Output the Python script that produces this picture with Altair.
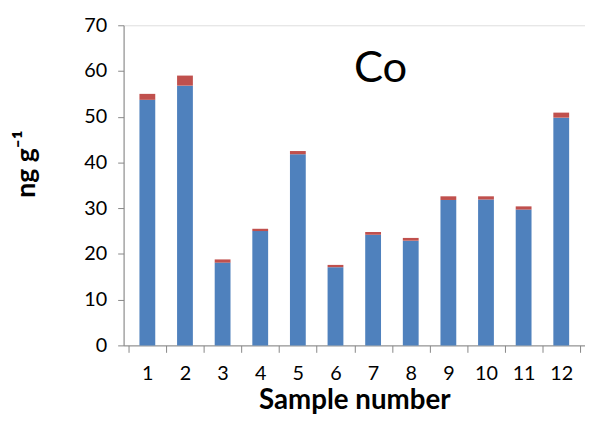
import altair as alt
import pandas as pd

samples = [1, 2, 3, 4, 5, 6, 7, 8, 9, 10, 11, 12]
blue_vals = [53.7, 56.8, 18.1, 25.0, 41.8, 17.1, 24.2, 22.9, 31.8, 31.9, 29.7, 49.8]
red_vals = [1.3, 2.2, 0.7, 0.5, 0.7, 0.5, 0.6, 0.6, 0.8, 0.7, 0.7, 1.1]
x_tick_bounds = [0.5, 1.5, 2.5, 3.5, 4.5, 5.5, 6.5, 7.5, 8.5, 9.5, 10.5, 11.5, 12.5]
y_ticks = [0, 10, 20, 30, 40, 50, 60, 70]
panel_label = ["Co"]
label_pos_x = [7.2]
label_pos_y = [57.7]

df = pd.DataFrame({"sample": samples, "blue": blue_vals, "red": red_vals})
df["top"] = df["blue"] + df["red"]
lab = pd.DataFrame({"text": panel_label, "x": label_pos_x, "y": label_pos_y})

FONT = "Lato"
GRAY = "#868686"

x_scale = alt.Scale(domain=[0.5, 12.5], nice=False, zero=False)
y_scale = alt.Scale(domain=[0, 70], nice=False)

y_axis = alt.Axis(
    values=y_ticks, title="ng g⁻¹", titleFont=FONT, titleFontSize=27,
    titleFontWeight="bold", titleColor="black", titlePadding=44, titleY=140,
    labelFont=FONT, labelFontSize=20, labelColor="black", labelPadding=11,
    tickSize=6, tickColor=GRAY, domainColor=GRAY, grid=False,
)

axis_ticks = alt.Axis(
    orient="bottom", values=x_tick_bounds, labels=False, title=None,
    tickSize=7, tickColor=GRAY, domainColor=GRAY, grid=False,
)
axis_labels = alt.Axis(
    orient="bottom", values=samples, ticks=False, domain=False, grid=False,
    labelFont=FONT, labelFontSize=20, labelColor="black", labelPadding=19,
    title="Sample number", titleFont=FONT, titleFontSize=28,
    titleFontWeight="bold", titleColor="black", titlePadding=3,
)

blue = alt.Chart(df).mark_bar(size=16, color="#4F81BD").encode(
    x=alt.X("sample:Q", scale=x_scale, axis=axis_ticks),
    y=alt.Y("blue:Q", scale=y_scale, axis=y_axis),
)
red = alt.Chart(df).mark_bar(size=16, color="#C0504D").encode(
    x=alt.X("sample:Q", scale=x_scale, axis=axis_labels),
    y=alt.Y("blue:Q", scale=y_scale, axis=y_axis),
    y2="top:Q",
)
text = alt.Chart(lab).mark_text(
    font=FONT, fontSize=44, color="black", align="center", baseline="alphabetic"
).encode(
    x=alt.X("x:Q", scale=x_scale, axis=None),
    y=alt.Y("y:Q", scale=y_scale, axis=y_axis),
    text="text:N",
)

chart = alt.layer(blue, red, text).resolve_axis(x="independent").properties(
    width=467,
    height=324,
    autosize=alt.AutoSizeParams(type="none"),
    padding={"left": 117, "top": 15, "right": 0, "bottom": 71},
).configure_view(stroke=None).configure(background="white")

chart.save("out.html", embed_options={"renderer": "svg", "actions": False})
